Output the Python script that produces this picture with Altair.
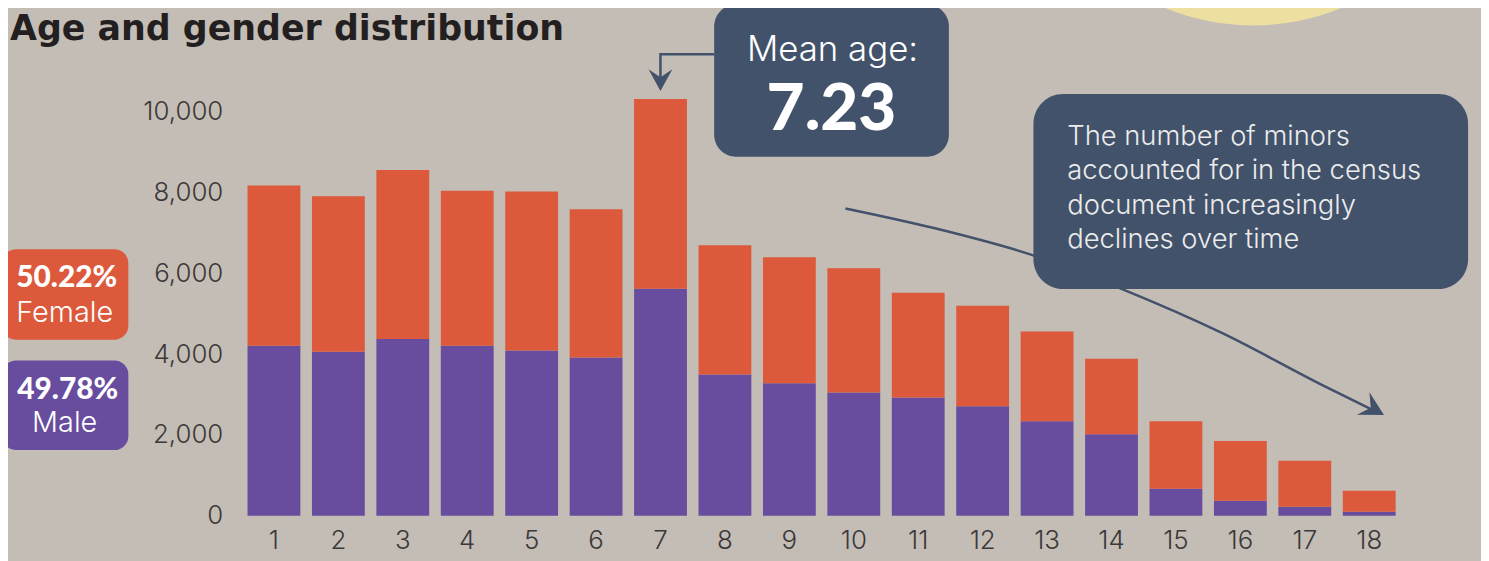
import altair as alt
import pandas as pd

ages = list(range(1, 19))
male = [4210, 4060, 4380, 4210, 4090, 3920, 5620, 3500, 3280, 3050, 2930, 2710, 2340, 2020, 670, 370, 220, 100]
total = [8180, 7910, 8560, 8050, 8030, 7590, 10320, 6700, 6400, 6130, 5520, 5200, 4560, 3890, 2340, 1850, 1360, 620]
female = [t - m for t, m in zip(total, male)]
y_ticks = [0, 2000, 4000, 6000, 8000, 10000]

BG = "#C4BDB6"
ORANGE = "#DC593B"
PURPLE = "#684C9E"
SLATE = "#41526A"
YELLOW = "#EDDFA0"
FONT = "Inter"
BOLD = "Lato"
TITLE_FONT = "DejaVu Sans"

# page -> plot-area coordinates
OX, OY = 243, 8
W, H = 1166, 509
YMAX = 509 / 0.0406


def px(x):
    return x - OX


def py(y):
    return y - OY


rows = []
for a, m, f in zip(ages, male, female):
    rows.append({"age": a, "sex": "Male", "ord": 0, "count": m})
    rows.append({"age": a, "sex": "Female", "ord": 1, "count": f})
df = pd.DataFrame(rows)

bars = alt.Chart(df).mark_bar().encode(
    x=alt.X("age:O", scale=alt.Scale(paddingInner=0.18, paddingOuter=0.09),
            axis=alt.Axis(labelAngle=0, labelFontSize=26, labelFont=FONT, labelFontWeight=300,
                          labelColor="#3b3838", labelPadding=12, domain=False, ticks=False, title=None)),
    y=alt.Y("count:Q", stack="zero", scale=alt.Scale(domain=[0, YMAX], nice=False),
            axis=alt.Axis(values=y_ticks, format=",.0f", labelFontSize=26, labelFont=FONT, labelFontWeight=300,
                          labelColor="#3b3838", labelPadding=19, domain=False, ticks=False, grid=False, title=None)),
    color=alt.Color("sex:N", scale=alt.Scale(domain=["Male", "Female"], range=[PURPLE, ORANGE]), legend=None),
    order=alt.Order("ord:Q", sort="ascending"),
)

one = pd.DataFrame({"a": [0]})


def rect(x1, y1, x2, y2, color, r):
    return alt.Chart(one).mark_rect(color=color, cornerRadius=r).encode(
        x=alt.value(px(x1)), x2=alt.value(px(x2)), y=alt.value(py(y1)), y2=alt.value(py(y2)))


def text(x, y, t, size, weight, color, align="center", font=FONT):
    return alt.Chart(one).mark_text(text=t, fontSize=size, fontWeight=weight, font=font, color=color,
                                    align=align, baseline="alphabetic").encode(
        x=alt.value(px(x)), y=alt.value(py(y)))


# yellow circle top right
circle = alt.Chart(one).mark_point(shape="circle", filled=True, opacity=1, color=YELLOW, size=466 ** 2).encode(
    x=alt.value(px(1260)), y=alt.value(py(-209)))

# curved arrow
curve_pts = [(850, 208), (940, 228), (1035, 254), (1130, 290), (1230, 334), (1330, 386), (1383, 412)]
curve_df = pd.DataFrame({"x": [px(p[0]) for p in curve_pts], "y": [py(p[1]) for p in curve_pts],
                         "i": list(range(len(curve_pts)))})
curve = alt.Chart(curve_df).mark_line(color=SLATE, strokeWidth=2.5, interpolate="monotone").encode(
    x=alt.X("x:Q", scale=None), y=alt.Y("y:Q", scale=None), order="i:Q")

ARROW = "M0,0.92 L-1,-0.92 L0,-0.25 L1,-0.92 Z"
head2 = alt.Chart(one).mark_point(shape=ARROW, filled=True, opacity=1, color=SLATE, size=676, angle=299).encode(
    x=alt.value(px(1381)), y=alt.value(py(410)))

# mean-age connector
conn_pts = [(718, 53), (664, 53), (664, 80)]
conn_df = pd.DataFrame({"x": [px(p[0]) for p in conn_pts], "y": [py(p[1]) for p in conn_pts],
                        "i": list(range(len(conn_pts)))})
conn = alt.Chart(conn_df).mark_line(color=SLATE, strokeWidth=2.5).encode(
    x=alt.X("x:Q", scale=None), y=alt.Y("y:Q", scale=None), order="i:Q")
head1 = alt.Chart(one).mark_point(shape=ARROW, filled=True, opacity=1, color=SLATE, size=576).encode(
    x=alt.value(px(664)), y=alt.value(py(79)))

layers = [
    circle,
    bars,
    curve,
    head2,
    conn,
    head1,
    rect(718, 3, 954, 156, SLATE, 22),
    text(837, 60, "Mean age:", 35, 300, "white"),
    text(836, 129, "7.23", 66, 900, "white", font=BOLD),
    rect(1039, 93, 1476, 289, SLATE, 30),
    alt.Chart(one).mark_text(text=["The number of minors", "accounted for in the census",
                                   "document increasingly", "declines over time"],
                             fontSize=27.5, fontWeight=300, font=FONT, color="#ECECEC", align="left",
                             baseline="alphabetic", lineHeight=34.7).encode(
        x=alt.value(px(1073)), y=alt.value(py(144))),
    rect(2, 249, 129, 340, ORANGE, 14),
    text(67, 287, "50.22%", 30, 900, "white", font=BOLD),
    text(65, 322, "Female", 29, 300, "white"),
    rect(2, 361, 129, 451, PURPLE, 14),
    text(68, 400, "49.78%", 30, 900, "white", font=BOLD),
    text(65, 433, "Male", 29, 300, "white"),
    text(10, 39, "Age and gender distribution", 35, 700, "#231f20", align="left", font=TITLE_FONT),
]

chart = alt.layer(*layers).properties(
    width=W, height=H, background=BG,
    autosize=alt.AutoSizeParams(type="none"),
    padding={"left": OX - 8, "top": 0, "right": 80, "bottom": 45},
).configure_view(stroke=None)

chart.save("out.html", embed_options={"renderer": "svg", "actions": False})
